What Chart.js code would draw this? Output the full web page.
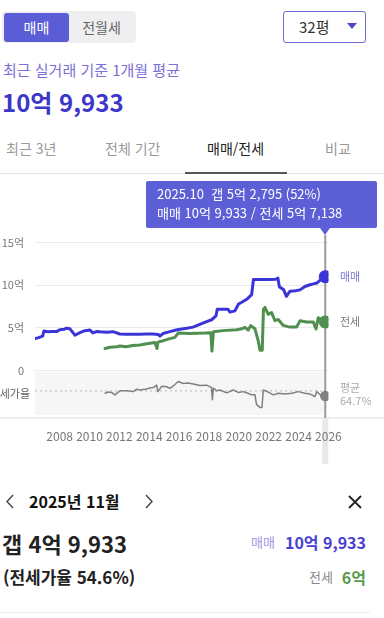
<!DOCTYPE html>
<html lang="ko">
<head>
<meta charset="utf-8">
<script src="https://cdn.jsdelivr.net/npm/chart.js@4.4.1/dist/chart.umd.min.js"></script>
<style>
  body { margin: 0; width: 384px; height: 618px; overflow: hidden; background: #fff;
         font-family: "Noto Sans CJK KR", "Noto Sans", sans-serif; position: relative; }
  .t { position: absolute; white-space: nowrap; line-height: 1; }
  #toggle { position: absolute; left: 2px; top: 11px; width: 134px; height: 32px; background: #efeff1; border-radius: 4px; }
  #toggleOn { position: absolute; left: 4px; top: 13px; width: 65px; height: 29px; background: #5b5dd6; border-radius: 3px;
              color: #fff; font-size: 14px; line-height: 29px; text-align: center; }
  #toggleOff { position: absolute; left: 69px; top: 13px; width: 65px; height: 29px; color: #666;
               font-size: 14px; line-height: 29px; text-align: center; }
  #size { position: absolute; left: 283px; top: 11px; width: 81px; height: 30px; border: 1.5px solid #6d6dd2; border-radius: 3px; }
  #tip { position: absolute; left: 146px; top: 181px; width: 231px; height: 47px; background: #5c5fd6; border-radius: 2px;
         color: #fff; font-size: 13px; }
  #tipArrow { position: absolute; left: 320px; top: 228px; width: 0; height: 0;
              border-left: 5px solid transparent; border-right: 5px solid transparent; border-top: 7px solid #5c5fd6; }
  #chartBox { position: absolute; left: 0; top: 176px; width: 384px; height: 300px; }
</style>
</head>
<body>
<div id="toggle"></div>
<div id="toggleOn">매매</div>
<div id="toggleOff">전월세</div>
<div id="size"></div>
<div class="t" style="left:299px;top:19px;font-size:15px;color:#333;">32평</div>
<svg style="position:absolute;left:347px;top:23px" width="10" height="6"><polygon points="0,0 10,0 5,6" fill="#4b4bc8"/></svg>

<div class="t" style="left:3px;top:62px;font-size:15px;color:#7a70d6;">최근 실거래 기준 1개월 평균</div>
<div class="t" style="left:2px;top:90px;font-size:24px;font-weight:bold;color:#3c37c9;">10억 9,933</div>

<div class="t" style="left:6px;top:141px;font-size:14px;color:#999;">최근 3년</div>
<div class="t" style="left:105px;top:141px;font-size:14px;color:#999;">전체 기간</div>
<div class="t" style="left:207px;top:141px;font-size:14px;color:#222;">매매/전세</div>
<div class="t" style="left:325px;top:141px;font-size:14px;color:#999;">비교</div>
<div style="position:absolute;left:0;top:173px;width:384px;height:1px;background:#e3e3e3;"></div>
<div style="position:absolute;left:185px;top:172px;width:102px;height:2px;background:#555;"></div>

<div id="chartBox"><canvas id="chart" width="384" height="300"></canvas></div>

<div id="tip">
  <div class="t" style="left:11px;top:6px;">2025.10&nbsp; 갭 5억 2,795 (52%)</div>
  <div class="t" style="left:11px;top:25px;">매매 10억 9,933 / 전세 5억 7,138</div>
</div>
<div id="tipArrow"></div>

<svg style="position:absolute;left:5px;top:494px" width="10" height="15"><polyline points="8,1 2,7.5 8,14" fill="none" stroke="#444" stroke-width="1.4"/></svg>
<div class="t" style="left:29px;top:493px;font-size:16px;font-weight:bold;color:#111;">2025년 11월</div>
<svg style="position:absolute;left:144px;top:494px" width="10" height="15"><polyline points="2,1 8,7.5 2,14" fill="none" stroke="#444" stroke-width="1.4"/></svg>
<svg style="position:absolute;left:348px;top:495px" width="14" height="14"><path d="M1,1 L13,13 M13,1 L1,13" stroke="#222" stroke-width="1.8"/></svg>

<div class="t" style="left:2px;top:532px;font-size:22px;font-weight:bold;color:#222;">갭 4억 9,933</div>
<div class="t" style="left:3px;top:568px;font-size:17px;font-weight:bold;color:#222;">(전세가율 54.6%)</div>
<div class="t" style="right:109px;top:535px;font-size:13px;color:#a197e2;">매매</div>
<div class="t" style="right:18px;top:534px;font-size:16px;font-weight:bold;color:#4a40d0;">10억 9,933</div>
<div class="t" style="right:51px;top:570px;font-size:13px;color:#888;">전세</div>
<div class="t" style="right:18px;top:569px;font-size:16px;font-weight:bold;color:#5a9a50;">6억</div>
<div style="position:absolute;left:0;top:612px;width:370px;height:1px;background:#ececec;"></div>

<script>
// 매매 (sale price, 억 원)
const saleYears = [
  2006.35, 2006.55, 2006.86, 2006.95, 2007.22, 2007.5, 2007.82, 2008.02, 2008.3, 2008.47,
  2008.69, 2008.9, 2009.02, 2009.36, 2009.69, 2010.03, 2010.23, 2010.5, 2010.7, 2011.15,
  2011.57, 2012.04, 2012.49, 2012.9, 2013.38, 2013.8, 2014.25, 2014.6, 2014.72, 2014.92,
  2015.39, 2015.72, 2016.06, 2016.51, 2016.93, 2017.18, 2017.51, 2017.93, 2018.18, 2018.47,
  2018.56, 2018.9, 2019.27, 2019.41, 2019.74, 2019.98, 2020.2, 2020.53, 2020.86, 2020.98,
  2021.5, 2022.0, 2022.49, 2022.62, 2022.72, 2022.99, 2023.19, 2023.43, 2023.8, 2024.1,
  2024.43, 2024.77, 2025.0, 2025.23, 2025.43, 2025.6, 2025.79,
];
const saleValues = [
  3.75, 3.85, 4.05, 4.65, 4.55, 4.6, 4.6, 4.8, 4.85, 4.97,
  4.9, 4.45, 4.15, 4.45, 4.68, 4.75, 4.42, 4.6, 4.55, 4.5,
  4.57, 4.3, 4.27, 4.28, 4.27, 4.3, 4.3, 4.25, 4.05, 4.35,
  4.57, 4.73, 4.85, 4.96, 5.1, 5.27, 5.5, 5.8, 5.96, 6.4,
  7.2, 7.2, 7.2, 6.85, 7.0, 7.8, 8.0, 8.35, 8.9, 10.66,
  10.66, 10.66, 10.7, 10.82, 9.8, 9.5, 8.7, 9.3, 9.35, 9.45,
  9.85, 10.05, 10.15, 10.25, 10.55, 10.7, 10.99,
];

// 전세 (jeonse deposit, 억 원)
const jeonseYears = [
  2011.04, 2011.37, 2011.84, 2012.04, 2012.44, 2012.91, 2013.38, 2013.83, 2014.38, 2014.52,
  2014.58, 2014.92, 2015.27, 2015.72, 2015.94, 2016.73, 2017.73, 2018.13, 2018.2, 2018.3,
  2018.94, 2019.86, 2020.21, 2020.41, 2020.63, 2020.79, 2021.08, 2021.3, 2021.42, 2021.57,
  2021.65, 2021.75, 2021.97, 2022.2, 2022.42, 2022.64, 2022.98, 2023.42, 2023.87, 2024.1,
  2024.54, 2024.99, 2025.17, 2025.32, 2025.5, 2025.66, 2025.79,
];
const jeonseValues = [
  2.6, 2.75, 2.8, 2.9, 2.8, 2.95, 3.0, 3.15, 3.3, 2.6,
  3.35, 3.5, 3.7, 3.9, 4.4, 4.35, 4.4, 4.45, 2.3, 4.55,
  4.69, 4.8, 4.9, 5.08, 4.75, 5.27, 4.9, 3.5, 2.4, 2.4,
  7.2, 7.4, 6.6, 6.8, 5.85, 6.0, 5.3, 5.1, 5.1, 5.85,
  5.7, 5.7, 4.88, 6.2, 6.0, 5.66, 5.71,
];

// 전세가율 (jeonse / sale, %)
const ratioYears = [
  2011.04, 2011.24, 2011.48, 2011.7, 2012.04, 2012.51, 2012.93, 2013.16, 2013.38, 2013.83,
  2014.05, 2014.27, 2014.5, 2014.58, 2014.83, 2015.17, 2015.39, 2015.61, 2015.94, 2016.28,
  2016.59, 2016.95, 2017.4, 2017.85, 2018.17, 2018.23, 2018.3, 2018.52, 2018.74, 2019.19,
  2019.63, 2019.96, 2020.3, 2020.61, 2020.86, 2021.08, 2021.19, 2021.42, 2021.55, 2021.64,
  2021.97, 2022.31, 2022.64, 2023.09, 2023.54, 2023.98, 2024.43, 2024.77, 2025.1, 2025.22,
  2025.43, 2025.79,
];
const ratioValues = [
  59, 62, 61, 55, 65, 65, 63, 69, 67, 69.5,
  72, 73, 79, 63, 76, 75, 71, 77, 88, 83,
  84, 82, 78, 79, 73, 43, 72, 65, 67, 60,
  67, 61, 63, 59, 55, 55, 31, 24, 24, 67,
  62, 55, 59, 57, 59, 63, 59, 57, 51, 63,
  56, 52,
];
const avgRatio = 64.7;

const yearTicks = [2008, 2010, 2012, 2014, 2016, 2018, 2020, 2022, 2024, 2026];
const priceTicks = [0, 5, 10, 15];

const saleColor = "#3b35d8";
const jeonseColor = "#4f8f4f";
const ratioColor = "#808080";

function toPoints(xs, ys) {
  return xs.map((x, i) => ({ x: x, y: ys[i] }));
}

// only the last point gets a dot
function lastDot(size) {
  return (ctx) => (ctx.dataIndex === ctx.dataset.data.length - 1 ? size : 0);
}

const overlayPlugin = {
  id: "overlay",
  beforeDraw(chart) {
    // things that sit under the tick labels
    const { ctx, chartArea, scales } = chart;
    const cx = scales.x.getPixelForValue(saleYears[saleYears.length - 1]);
    ctx.save();
    ctx.fillStyle = "#ececec";
    ctx.fillRect(0, chartArea.bottom + 2, chart.width, 2);
    ctx.fillStyle = "#e8e8e8";
    ctx.fillRect(cx - 3, chartArea.bottom + 4, 6, 45);
    ctx.restore();
  },
  beforeDatasetsDraw(chart) {
    const { ctx, chartArea, scales } = chart;
    const cx = scales.x.getPixelForValue(saleYears[saleYears.length - 1]);
    const panelTop = scales.y.getPixelForValue(0) + 1;
    const ay = scales.y2.getPixelForValue(avgRatio);
    ctx.save();
    // ratio panel background
    ctx.fillStyle = "#f6f6f6";
    ctx.fillRect(chartArea.left, panelTop, cx - chartArea.left, chartArea.bottom - panelTop);
    // average ratio dotted line
    ctx.strokeStyle = "#b8b8b8";
    ctx.lineWidth = 1;
    ctx.setLineDash([2, 3]);
    ctx.beginPath();
    ctx.moveTo(chartArea.left, ay);
    ctx.lineTo(cx, ay);
    ctx.stroke();
    ctx.setLineDash([]);
    // cursor
    ctx.strokeStyle = "#9a9a9a";
    ctx.lineWidth = 2;
    ctx.beginPath();
    ctx.moveTo(cx, 59);
    ctx.lineTo(cx, chartArea.bottom + 3);
    ctx.stroke();
    ctx.restore();
  },
  afterDraw(chart) {
    const { ctx, scales } = chart;
    const ySale = scales.y.getPixelForValue(saleValues[saleValues.length - 1]);
    const yJeonse = scales.y.getPixelForValue(jeonseValues[jeonseValues.length - 1]);
    const ay = scales.y2.getPixelForValue(avgRatio);
    ctx.save();
    ctx.font = "11px 'Noto Sans CJK KR'";
    ctx.textBaseline = "middle";
    ctx.textAlign = "left";
    ctx.fillStyle = "#7c78d8";
    ctx.fillText("매매", 340, ySale);
    ctx.fillStyle = "#7a7a7a";
    ctx.fillText("전세", 340, yJeonse);
    ctx.fillStyle = "#a8a8a8";
    ctx.fillText("평균", 340, ay - 3);
    ctx.fillText(avgRatio + "%", 340, ay + 10);
    ctx.fillStyle = "#666";
    ctx.textAlign = "right";
    ctx.fillText("전세가율", 30, ay + 3);
    ctx.restore();
  },
};

Chart.defaults.font.family = "'Noto Sans CJK KR', 'Noto Sans', sans-serif";

new Chart(document.getElementById("chart"), {
  type: "line",
  data: {
    datasets: [
      {
        label: "매매",
        data: toPoints(saleYears, saleValues),
        borderColor: saleColor,
        backgroundColor: saleColor,
        borderWidth: 3,
        pointRadius: lastDot(5),
        yAxisID: "y",
      },
      {
        label: "전세",
        data: toPoints(jeonseYears, jeonseValues),
        borderColor: jeonseColor,
        backgroundColor: jeonseColor,
        borderWidth: 3,
        pointRadius: lastDot(5),
        yAxisID: "y",
      },
      {
        label: "전세가율",
        data: toPoints(ratioYears, ratioValues),
        borderColor: ratioColor,
        backgroundColor: ratioColor,
        borderWidth: 1.5,
        pointRadius: lastDot(4.5),
        yAxisID: "y2",
      },
    ],
  },
  options: {
    responsive: false,
    animation: false,
    events: [],
    elements: {
      line: { tension: 0, borderJoinStyle: "round", borderCapStyle: "round" },
      point: { borderWidth: 0, hoverRadius: 0 },
    },
    layout: { padding: { top: 54, right: 55.6, bottom: 18.6, left: 0 } },
    plugins: { legend: { display: false }, tooltip: { enabled: false } },
    scales: {
      x: {
        type: "linear",
        min: 2006.35,
        max: 2026,
        afterBuildTicks: (axis) => { axis.ticks = yearTicks.map((v) => ({ value: v })); },
        grid: { display: false, drawTicks: false },
        border: { display: false },
        ticks: {
          autoSkip: false,
          maxRotation: 0,
          padding: 14,
          color: "#777",
          font: { size: 12 },
          callback: (v) => String(v),
        },
      },
      y: {
        min: -5.166,
        max: 16.445,
        afterBuildTicks: (axis) => { axis.ticks = priceTicks.map((v) => ({ value: v })); },
        afterFit: (axis) => { axis.width = 35; },
        grid: { color: "#ebebeb", drawTicks: false },
        border: { display: false },
        ticks: {
          padding: 11,
          color: "#777",
          font: { size: 11 },
          callback: (v) => (v === 0 ? "0" : v + "억"),
        },
      },
      y2: {
        display: false,
        min: 5.37,
        max: 461.5,
      },
    },
  },
  plugins: [overlayPlugin],
});
</script>
</body>
</html>
